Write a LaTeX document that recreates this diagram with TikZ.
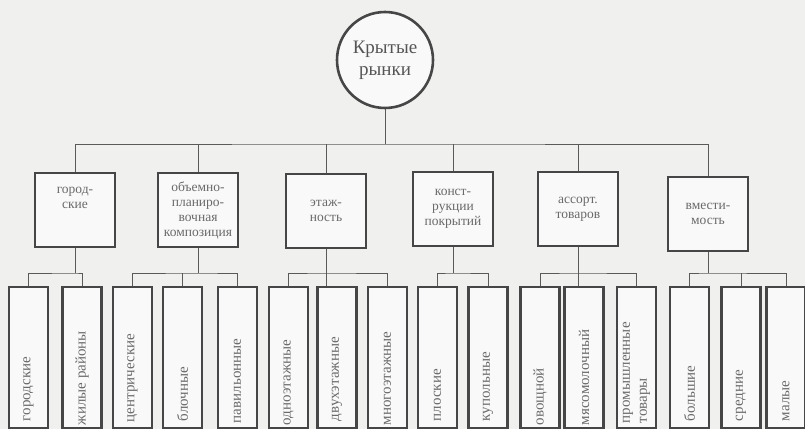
\documentclass[tikz,border=0pt]{standalone}
\usepackage{fontspec}
\setmainfont{Liberation Serif}
\usepackage{tikz}
\usepackage{xcolor}
\usetikzlibrary{positioning,calc}
\definecolor{Paper}{HTML}{F0F0EF}
\definecolor{Frame}{HTML}{464646}
\definecolor{Wire}{HTML}{5A5A5A}
\definecolor{Ink}{HTML}{6A6A6A}

\begin{document}
\begin{tikzpicture}[x=1pt,y=1pt,
  root/.style={circle,draw=Frame,line width=2.6pt,fill=Paper!40!white,minimum size=96pt,align=center,text=Ink!80!black,font=\fontsize{19}{22}\selectfont},
  group/.style={rectangle,draw=Frame,line width=2.6pt,fill=Paper!40!white,minimum width=80pt,minimum height=74pt,inner sep=2pt,align=center,text=Ink,font=\fontsize{13.5}{15}\selectfont},
  leaf/.style={rectangle,draw=Frame,line width=2.6pt,fill=Paper!40!white,minimum width=39pt,minimum height=141pt,inner sep=0pt},
  leaftext/.style={rotate=90,anchor=west,align=left,inner sep=0pt,text=Ink,font=\fontsize{15}{17}\selectfont},
  link/.style={draw=Wire,line width=0.9pt}
]
\fill[Paper] (0,0) rectangle (805,429);
\useasboundingbox (0,0) rectangle (805,429);

% top of the tree
\node[root] (root) at (385,369) {Крытые\\рынки};
\coordinate (bus) at (385,285);

% classification criteria
\node[group] (b1) at (75,219) {город-\\ские\\[10pt]};
\node[group] (b2) at (198,219) {объемно-\\планиро-\\вочная\\композиция};
\node[group] (b3) at (326,218) {этаж-\\ность};
\node[group] (b4) at (453,220) {конст-\\рукции\\покрытий};
\node[group] (b5) at (578,220) {ассорт.\\товаров};
\node[group] (b6) at (708,215) {вмести-\\мость};

\draw[link] (root.south) -- (bus);
\draw[link] (b1.north) |- (bus) -| (b6.north);
\draw[link] (b2.north) -- (b2.north |- bus);
\draw[link] (b3.north) -- (b3.north |- bus);
\draw[link] (b4.north) -- (b4.north |- bus);
\draw[link] (b5.north) -- (b5.north |- bus);

% market types, bottom row
\node[leaf] (l1) at (28.5,71.5) {};
\node[leaf] (l2) at (82,71.5) {};
\node[leaf] (l3) at (132.5,71.5) {};
\node[leaf] (l4) at (182.5,71.5) {};
\node[leaf] (l5) at (237.5,71.5) {};
\node[leaf] (l6) at (288.5,71.5) {};
\node[leaf] (l7) at (337,71.5) {};
\node[leaf] (l8) at (387.5,71.5) {};
\node[leaf] (l9) at (437.5,71.5) {};
\node[leaf] (l10) at (488,71.5) {};
\node[leaf] (l11) at (540,71.5) {};
\node[leaf] (l12) at (584,71.5) {};
\node[leaf] (l13) at (636.5,71.5) {};
\node[leaf] (l14) at (689.5,71.5) {};
\node[leaf] (l15) at (741,71.5) {};
\node[leaf] (l16) at (786,71.5) {};

\node[leaftext] (t1) at ([yshift=8pt]l1.south) {городские};
\node[leaftext] (t2) at ([yshift=4pt]l2.south) {жилые районы};
\node[leaftext] (t3) at ([yshift=7pt]l3.south) {центрические};
\node[leaftext] (t4) at ([yshift=8pt]l4.south) {блочные};
\node[leaftext] (t5) at ([yshift=6pt]l5.south) {павильонные};
\node[leaftext] (t6) at ([yshift=4pt]l6.south) {одноэтажные};
\node[leaftext] (t7) at ([yshift=8pt]l7.south) {двухэтажные};
\node[leaftext] (t8) at ([yshift=4pt]l8.south) {многоэтажные};
\node[leaftext] (t9) at ([yshift=8pt]l9.south) {плоские};
\node[leaftext] (t10) at ([yshift=8pt]l10.south) {купольные};
\node[leaftext] (t11) at ([yshift=4pt]l11.south) {овощной};
\node[leaftext] (t12) at ([yshift=4pt]l12.south) {мясомолочный};
\node[leaftext] (t13) at ([yshift=6pt]l13.south) {промышленные\\товары};
\node[leaftext] (t14) at ([yshift=8pt]l14.south) {большие};
\node[leaftext] (t15) at ([yshift=8pt]l15.south) {средние};
\node[leaftext] (t16) at ([yshift=8pt]l16.south) {малые};

% branches under each criterion
\coordinate (s1) at (75,156);
\coordinate (s2) at (198,156);
\coordinate (s3) at (326,156);
\coordinate (s4) at (453,156);
\coordinate (s5) at (578,156);
\coordinate (s6) at (708,156);

\draw[link] (b1.south) -- (s1);
\draw[link] (l1.north) |- (s1) -| (l2.north);
\draw[link] (b2.south) -- (s2);
\draw[link] (l3.north) |- (s2) -| (l5.north);
\draw[link] (l4.north) -- (l4.north |- s2);
\draw[link] (b3.south) -- (b3.south |- l7.north);
\draw[link] (l6.north) |- (s3) -| (l8.north);
\draw[link] (b4.south) -- (s4);
\draw[link] (l9.north) |- (s4) -| (l10.north);
\draw[link] (b5.south) -- (b5.south |- l12.north);
\draw[link] (l11.north) |- (s5) -| (l13.north);
\draw[link] (b6.south) -- (s6);
\draw[link] (l14.north) |- (s6) -| (l16.north);
\draw[link] (l15.north) -- (l15.north |- s6);
\end{tikzpicture}
\end{document}
